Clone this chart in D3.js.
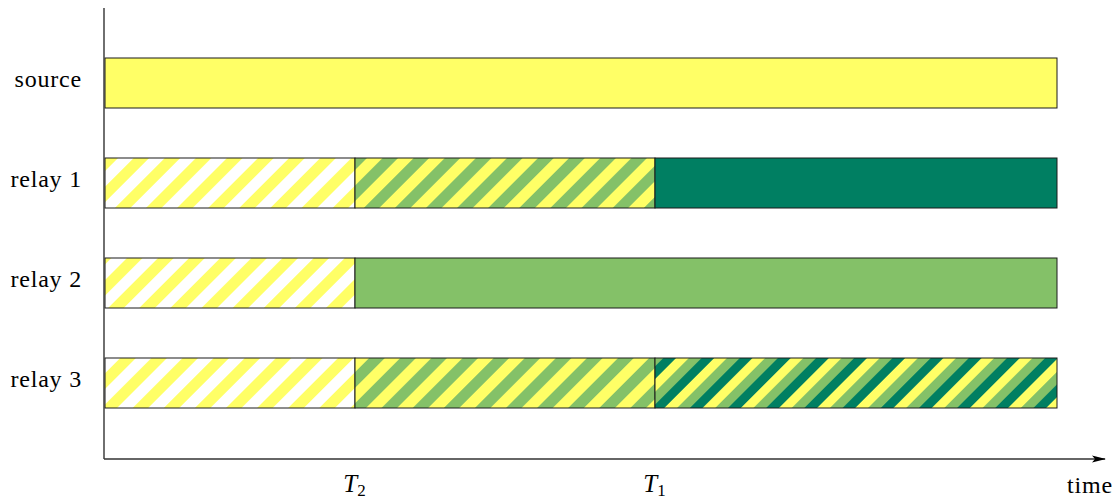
<!DOCTYPE html>
<html>
<head>
<meta charset="utf-8">
<script src="https://cdn.jsdelivr.net/npm/d3@7"></script>
<style>
  html, body { margin: 0; padding: 0; background: #fff; }
  svg { display: block; }
  text { font-family: "Liberation Serif", "DejaVu Serif", serif; }
</style>
</head>
<body>
<svg id="chart" width="1120" height="500"></svg>
<script>
// ---- data ----
const rows = ["source", "relay 1", "relay 2", "relay 3"];
const T2 = 2.5, T1 = 5.5, tEnd = 9.52;
const tickValues = [T2, T1];
const tickNames = [["T", "2"], ["T", "1"]];
const segStart = [0, 0, T2, T1, 0, T2, 0, T2, T1];
const segEnd   = [tEnd, T2, T1, tEnd, T2, tEnd, T2, T1, tEnd];
const segRow   = ["source", "relay 1", "relay 1", "relay 1", "relay 2", "relay 2", "relay 3", "relay 3", "relay 3"];
const segFill  = ["yellow", "whiteYellow", "greenYellow", "dark", "whiteYellow", "green", "whiteYellow", "greenYellow", "tri"];

const colors = { yellow: "#ffff66", green: "#84c168", dark: "#007f62", white: "#ffffff" };

const svg = d3.select("#chart");
const x = d3.scaleLinear().domain([0, 10]).range([105, 1105]);
const y = d3.scaleBand().domain(rows).range([33, 433]).paddingInner(0.5).paddingOuter(0.25);

// ---- patterns ----
const defs = svg.append("defs");
function stripes(id, cols, w) {
  const p = defs.append("pattern").attr("id", id)
    .attr("patternUnits", "userSpaceOnUse")
    .attr("width", w * cols.length).attr("height", 40)
    .attr("patternTransform", "translate(105,0) rotate(45)");
  cols.forEach((c, i) => p.append("rect").attr("x", i * w).attr("y", 0)
    .attr("width", w).attr("height", 40).attr("fill", c));
}
stripes("whiteYellow", [colors.yellow, colors.white], 11);
stripes("greenYellow", [colors.green, colors.yellow], 11);
stripes("tri", [colors.dark, colors.yellow, colors.green], 9);

const fillFor = f => colors[f] ? colors[f] : `url(#${f})`;

// ---- bars ----
svg.append("g").selectAll("rect")
  .data(segStart.map((s, i) => ({ s, e: segEnd[i], r: segRow[i], f: segFill[i] })))
  .join("rect")
  .attr("x", d => x(d.s))
  .attr("y", d => y(d.r))
  .attr("width", d => x(d.e) - x(d.s))
  .attr("height", y.bandwidth())
  .attr("fill", d => fillFor(d.f))
  .attr("stroke", "#1a1a1a")
  .attr("stroke-width", 1);

// ---- axes ----
defs.append("marker").attr("id", "arrow")
  .attr("viewBox", "0 0 14 10").attr("refX", 13).attr("refY", 5)
  .attr("markerWidth", 14).attr("markerHeight", 10)
  .attr("markerUnits", "userSpaceOnUse").attr("orient", "auto")
  .append("path").attr("d", "M0,1.5 L14,5 L0,8.5 L3,5 Z").attr("fill", "#000");

const axisY = 459;
svg.append("line").attr("x1", 104).attr("x2", 104).attr("y1", 8).attr("y2", axisY)
  .attr("stroke", "#333").attr("stroke-width", 1.4);
svg.append("line").attr("x1", 104).attr("x2", x(10)).attr("y1", axisY).attr("y2", axisY)
  .attr("stroke", "#333").attr("stroke-width", 1.4).attr("marker-end", "url(#arrow)");

// y labels
const yAxis = svg.append("g").attr("transform", "translate(104,0)")
  .call(d3.axisLeft(y).tickSize(0).tickPadding(22));
yAxis.select(".domain").remove();
yAxis.selectAll("text").attr("font-size", 24).attr("fill", "#000").attr("dy", "0.17em")
  .attr("letter-spacing", 0.8)
  .style("font-family", "'Liberation Serif', serif");

// x tick labels
const xAxis = svg.append("g").attr("transform", `translate(0,${axisY})`)
  .call(d3.axisBottom(x).tickValues(tickValues).tickSize(0).tickFormat(""));
xAxis.select(".domain").remove();
xAxis.selectAll(".tick").each(function(d, i) {
  const t = d3.select(this).append("text").attr("x", -1).attr("y", 33).attr("text-anchor", "middle")
    .attr("fill", "#000").attr("font-size", 25).style("font-family", "'Liberation Serif', serif");
  t.append("tspan").attr("font-style", "italic").text(tickNames[i][0]);
  t.append("tspan").attr("font-size", 17).attr("dy", 4).text(tickNames[i][1]);
});

// time label
svg.append("text").attr("x", 1090).attr("y", 493).attr("text-anchor", "middle")
  .attr("font-size", 24).attr("letter-spacing", 0.8).attr("fill", "#000").text("time");
</script>
</body>
</html>
